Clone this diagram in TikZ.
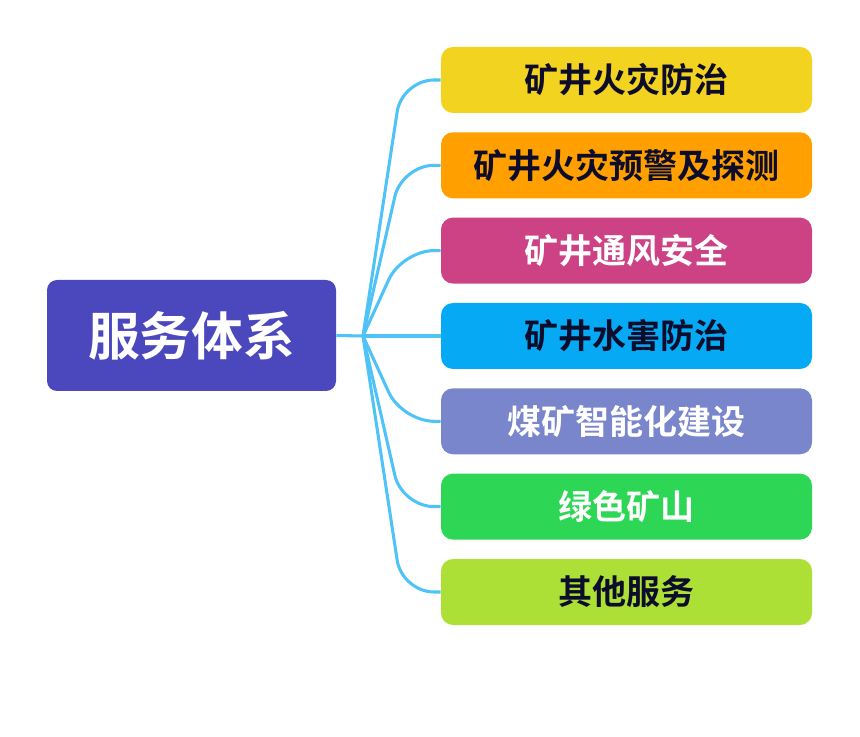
\documentclass[tikz,border=0pt]{standalone}
\usepackage{fontspec}
\newfontfamily\cjk{Noto Sans CJK SC}[UprightFont=*,BoldFont=* Bold]
\usetikzlibrary{calc}

\definecolor{rootblue}{HTML}{4B48BE}
\definecolor{linkblue}{HTML}{4FC3F7}
\definecolor{fireyellow}{HTML}{F2D31F}
\definecolor{warnorange}{HTML}{FFA000}
\definecolor{airpink}{HTML}{CC4285}
\definecolor{waterblue}{HTML}{05A9F4}
\definecolor{smartlav}{HTML}{7986CB}
\definecolor{greengreen}{HTML}{2DD654}
\definecolor{otherlime}{HTML}{ACE036}
\definecolor{darktext}{HTML}{0D0D2B}

\begin{document}
\begin{tikzpicture}[x=0.75pt,y=-0.75pt,
    root/.style={rounded corners=7.5pt,minimum width=216.75pt,minimum height=83.25pt,
        text=white,font=\cjk\bfseries\fontsize{38.8pt}{41pt}\selectfont},
    leaf/.style={rounded corners=9pt,minimum width=278.25pt,minimum height=49.5pt,
        font=\cjk\bfseries\fontsize{25.5pt}{28pt}\selectfont},
    link/.style={draw=linkblue,line width=2.3pt,rounded corners=24pt}]
        \useasboundingbox (0,0) rectangle (860,737);

        \coordinate (hub) at (363,336);

        \node[root,fill=rootblue] (service) at (191.5,335.5) {服务体系};

        \node[leaf,fill=fireyellow,text=darktext] (fire) at (626.5,80) {矿井火灾防治};
        \node[leaf,fill=warnorange,text=darktext] (warn) at (626.5,165.3) {矿井火灾预警及探测};
        \node[leaf,fill=airpink,text=white] (vent) at (626.5,250.6) {矿井通风安全};
        \node[leaf,fill=waterblue,text=darktext] (water) at (626.5,336) {矿井水害防治};
        \node[leaf,fill=smartlav,text=white] (smart) at (626.5,421.3) {煤矿智能化建设};
        \node[leaf,fill=greengreen,text=white] (green) at (626.5,506.6) {绿色矿山};
        \node[leaf,fill=otherlime,text=darktext] (other) at (626.5,592) {其他服务};

        % from the root to the fork
        \draw[link] (service.east)--(hub);
        \draw[link] (hub)--(402,80)--(fire.west);
        \draw[link] (hub)--(402,165.3)--(warn.west);
        \draw[link] (hub)--(402,250.6)--(vent.west);
        \draw[link] (hub)--(water.west);
        \draw[link] (hub)--(402,421.3)--(smart.west);
        \draw[link] (hub)--(402,506.6)--(green.west);
        \draw[link] (hub)--(402,592)--(other.west);

    \end{tikzpicture}
\end{document}
